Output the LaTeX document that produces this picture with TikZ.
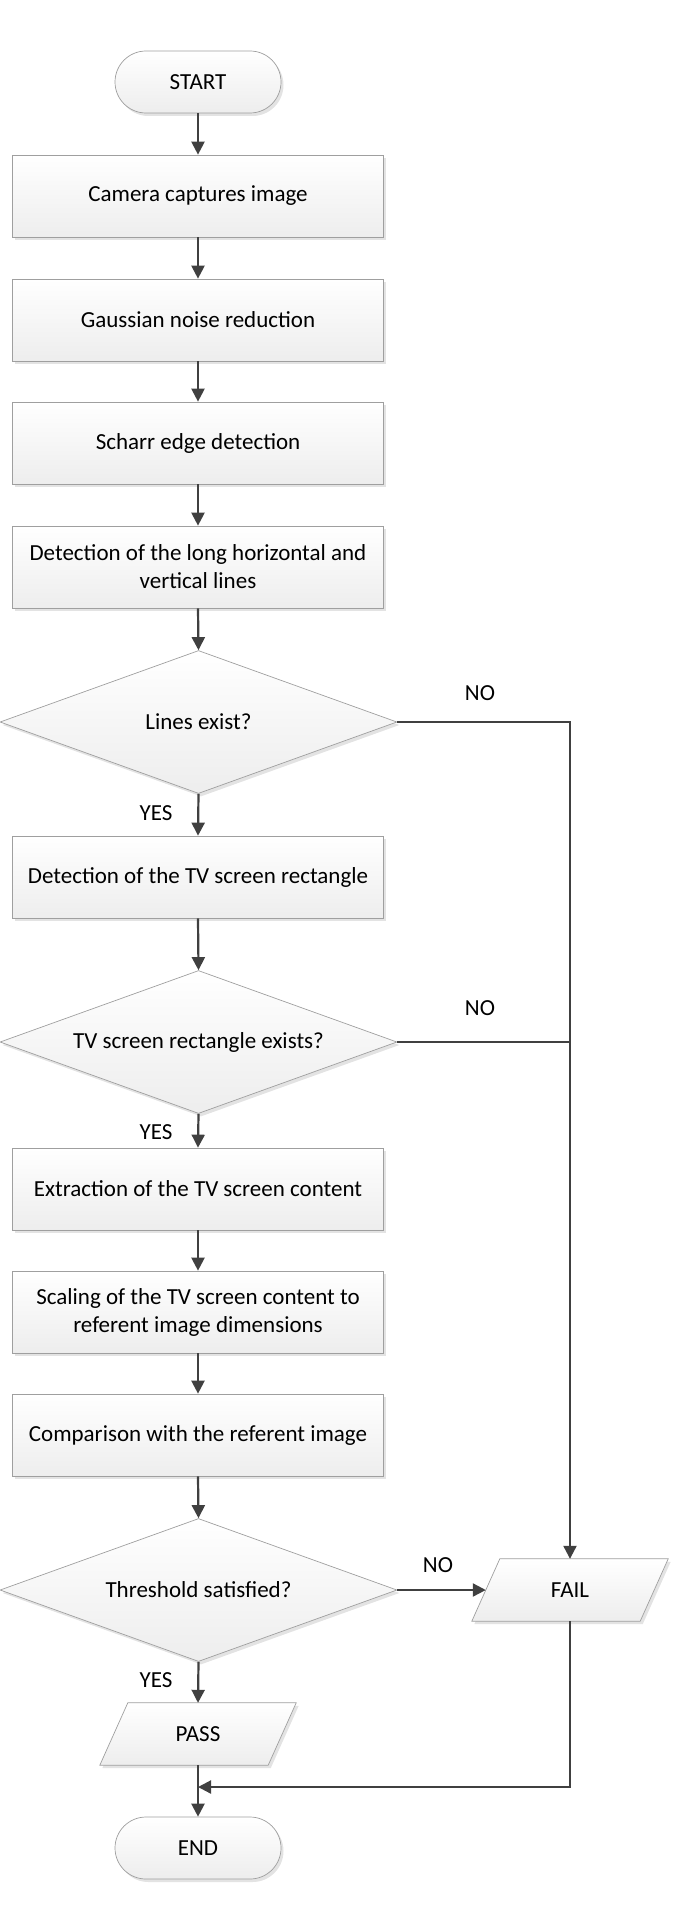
\documentclass[tikz,border=0pt]{standalone}
\usepackage{fontspec}
\setmainfont{Carlito}
\usetikzlibrary{shapes.geometric,shadows,arrows.meta,backgrounds}
\begin{document}
\begin{tikzpicture}[x=1pt,y=-1pt,
 fillstyle/.style={draw=gray!75, line width=0.7pt, top color=white, bottom color=gray!14,
   drop shadow={shadow xshift=2.5pt, shadow yshift=-3pt, fill=gray!40, opacity=0.55}},
 base/.style={fillstyle, font=\fontsize{23}{28}\selectfont, text=black, align=center, inner sep=0pt},
 procbox/.style={base, rectangle, minimum width=371pt, minimum height=82pt},
 term/.style={base, rectangle, rounded corners=31pt, minimum width=166pt, minimum height=62pt},
 decision/.style={base, diamond, shape aspect=2.79, minimum width=397pt, minimum height=143pt},
 iotext/.style={rectangle, font=\fontsize{23}{28}\selectfont, text=black, inner sep=0pt,
   minimum width=168pt, minimum height=62pt},
 arr/.style={draw=black!75, line width=2.2pt, -{Triangle[length=13pt,width=13pt]}},
 lnk/.style={draw=black!75, line width=2.2pt},
 lbl/.style={font=\fontsize{23}{28}\selectfont, text=black}
]
\useasboundingbox (0,0) rectangle (685,1932);

\node[term] (start) at (198,82) {START};
\node[procbox] (b1) at (198,196) {Camera captures image};
\node[procbox] (b2) at (198,320) {Gaussian noise reduction};
\node[procbox] (b3) at (198,443) {Scharr edge detection};
\node[procbox] (b4) at (198,567) {Detection of the long horizontal and\\vertical lines};
\node[decision] (d1) at (198.5,722) {Lines exist?};
\node[procbox] (b5) at (198,877) {Detection of the TV screen rectangle};
\node[decision] (d2) at (198.5,1042) {TV screen rectangle exists?};
\node[procbox] (b6) at (198,1189) {Extraction of the TV screen content};
\node[procbox] (b7) at (198,1312) {Scaling of the TV screen content to\\referent image dimensions};
\node[procbox] (b8) at (198,1435) {Comparison with the referent image};
\node[decision] (d3) at (198.5,1590) {Threshold satisfied?};
\node[iotext] (pass) at (198,1734) {PASS};
\node[iotext] (fail) at (570,1590) {FAIL};
\node[term] (end) at (198,1848) {END};
\coordinate (join) at (198,1787);

\begin{pgfonlayer}{background}
\path[fillstyle] ([xshift=-14pt]pass.south west) -- ([xshift=14pt]pass.north west)
  -- ([xshift=14pt]pass.north east) -- ([xshift=-14pt]pass.south east) -- cycle;
\path[fillstyle] ([xshift=-14pt]fail.south west) -- ([xshift=14pt]fail.north west)
  -- ([xshift=14pt]fail.north east) -- ([xshift=-14pt]fail.south east) -- cycle;
\end{pgfonlayer}

\draw[arr] (start.south) -- (b1.north);
\draw[arr] (b1.south) -- (b2.north);
\draw[arr] (b2.south) -- (b3.north);
\draw[arr] (b3.south) -- (b4.north);
\draw[arr] (b4.south) -- (d1.north);
\draw[arr] (d1.south) -- (b5.north);
\draw[arr] (b5.south) -- (d2.north);
\draw[arr] (d2.south) -- (b6.north);
\draw[arr] (b6.south) -- (b7.north);
\draw[arr] (b7.south) -- (b8.north);
\draw[arr] (b8.south) -- (d3.north);
\draw[arr] (d3.south) -- (pass.north);
\draw[arr] (pass.south) -- (end.north);
\draw[arr] (d1.east) -| (fail.north);
\draw[lnk] (d2.east) -- (d2.east -| fail.north);
\draw[arr] (d3.east) -- (fail.west);
\draw[arr] (fail.south) |- (join);

\node[lbl] (no1) at (480,693) {NO};
\node[lbl] (no2) at (480,1008) {NO};
\node[lbl] (no3) at (438,1565) {NO};
\node[lbl] (yes1) at (156,813) {YES};
\node[lbl] (yes2) at (156,1132) {YES};
\node[lbl] (yes3) at (156,1680) {YES};
\end{tikzpicture}
\end{document}
